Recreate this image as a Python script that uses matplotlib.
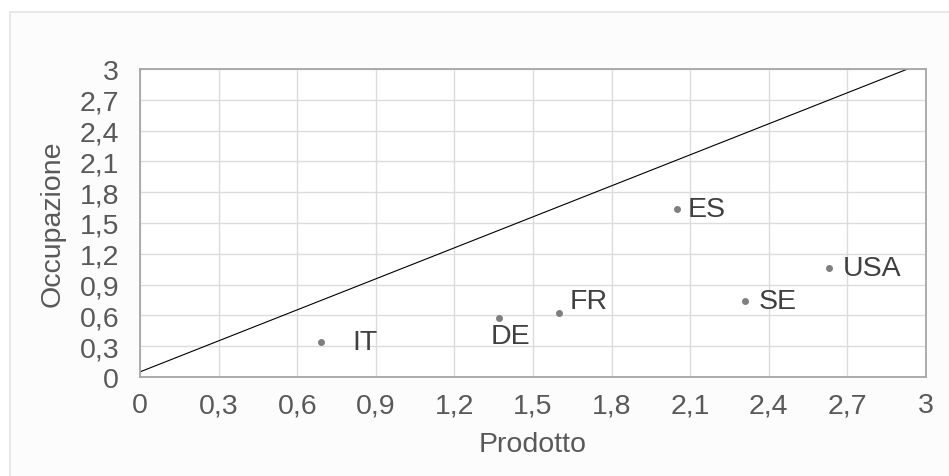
import numpy as np
import matplotlib.pyplot as plt
from matplotlib.ticker import FuncFormatter
from matplotlib.patches import Rectangle

# dati
paesi = ["IT", "DE", "FR", "ES", "SE", "USA"]
prodotto = [0.69, 1.37, 1.60, 2.05, 2.31, 2.63]
occupazione = [0.34, 0.57, 0.62, 1.64, 0.74, 1.06]
# spostamento etichette (pixel) e allineamento
off = {"IT": (32, 0, "left"), "DE": (11, -18, "center"), "FR": (10, 12, "left"),
       "ES": (11, 0, "left"), "SE": (13, 0, "left"), "USA": (14, 0, "left")}
retta_x = [0, 2.93]
retta_y = [0.05, 3.0]

plt.rcParams['font.family'] = ['Liberation Sans', 'DejaVu Sans']
W, H = 949, 477
fs = 20.5
fig = plt.figure(figsize=(W / 100, H / 100), dpi=100)
fig.patch.set_facecolor("white")
fig.patches.append(Rectangle((10 / W, -0.1), 1.2, (H - 13) / H + 0.1, transform=fig.transFigure,
                             facecolor="#fcfcfc", edgecolor="#e4e4e4", lw=1.2, zorder=-10))

ax = fig.add_axes([140 / W, (H - 378) / H, 786 / W, 308 / H])
ax.set_facecolor("white")
ax.set_xlim(0, 3)
ax.set_ylim(0, 3)
ticks = np.round(np.arange(0, 3.01, 0.3), 1)
ax.set_xticks(ticks)
ax.set_yticks(ticks)
fmt = FuncFormatter(lambda v, p: ("%g" % round(v, 1)).replace(".", ","))
ax.xaxis.set_major_formatter(fmt)
ax.yaxis.set_major_formatter(fmt)
ax.grid(True, color="#dcdcdc", lw=1.0)
ax.set_axisbelow(True)
for s in ax.spines.values():
    s.set_color("#a6a6a6")
    s.set_linewidth(1.3)
ax.tick_params(length=0, labelsize=fs, colors="#595959")
ax.tick_params(axis="y", pad=15)
ax.tick_params(axis="x", pad=11)

ax.plot(retta_x, retta_y, color="black", lw=0.8)
ax.scatter(prodotto, occupazione, s=16, color="#7f7f7f", zorder=3)
for p, x, y in zip(paesi, prodotto, occupazione):
    dx, dy, ha = off[p]
    ax.annotate(p, (x, y), xytext=(dx, dy), textcoords="offset pixels",
                ha=ha, va="center", fontsize=fs, color="#404040")

ax.set_xlabel("Prodotto", fontsize=fs, color="#595959", labelpad=9)
ax.set_ylabel("Occupazione", fontsize=fs, color="#595959", labelpad=10)

fig.savefig("out.png", dpi=100)
